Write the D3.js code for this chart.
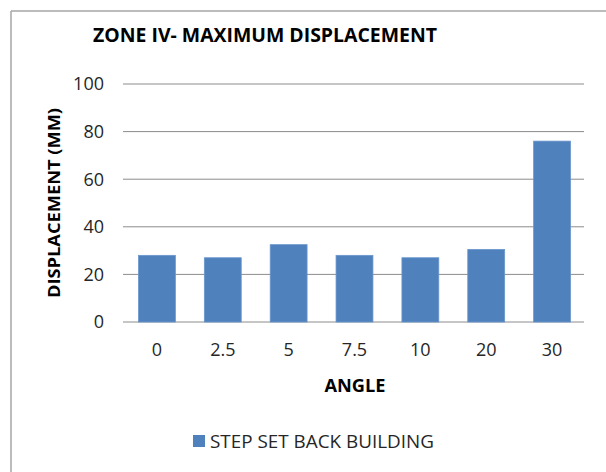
<!DOCTYPE html>
<html>
<head>
<meta charset="utf-8">
<script src="https://cdn.jsdelivr.net/npm/d3@7"></script>
<style>
  html, body { margin: 0; padding: 0; background: #fff; }
  svg { display: block; font-family: "Open Sans", sans-serif; }
</style>
</head>
<body>
<svg id="chart" width="606" height="472"></svg>
<script>
// chart data
var angles = ["0", "2.5", "5", "7.5", "10", "20", "30"];
var displacement = [28, 27, 32.5, 28, 27, 30.5, 76];
var yTicks = [0, 20, 40, 60, 80, 100];
var seriesName = "STEP SET BACK BUILDING";

var svg = d3.select("#chart");
var barColor = "#4F81BD";

// outer chart border (only top / left visible in the crop)
svg.append("line").attr("x1", 11).attr("y1", 11).attr("x2", 606).attr("y2", 11)
   .attr("stroke", "#a6a6a6").attr("stroke-width", 1.5);
svg.append("line").attr("x1", 11).attr("y1", 11).attr("x2", 11).attr("y2", 472)
   .attr("stroke", "#a6a6a6").attr("stroke-width", 1.5);

var plotLeft = 123, plotRight = 584, plotTop = 84, plotBottom = 322;

var x = d3.scaleBand().domain(angles).range([plotLeft + 1, plotRight + 1]).paddingInner(0.44).paddingOuter(0.22);
var y = d3.scaleLinear().domain([0, 100]).range([plotBottom, plotTop]);

// gridlines
svg.append("g")
   .selectAll("line")
   .data(yTicks)
   .enter()
   .append("line")
   .attr("x1", plotLeft)
   .attr("x2", plotRight)
   .attr("y1", function (d) { return y(d); })
   .attr("y2", function (d) { return y(d); })
   .attr("stroke", "#8c8c8c")
   .attr("stroke-width", 1);

// y tick labels
svg.append("g")
   .selectAll("text")
   .data(yTicks)
   .enter()
   .append("text")
   .attr("x", 104)
   .attr("y", function (d) { return y(d); })
   .attr("dy", "0.36em")
   .attr("text-anchor", "end")
   .attr("font-size", 18)
   .attr("fill", "#262626")
   .text(function (d) { return d; });

// bars
svg.append("g")
   .selectAll("rect")
   .data(displacement)
   .enter()
   .append("rect")
   .attr("x", function (d, i) { return x(angles[i]); })
   .attr("y", function (d) { return y(d); })
   .attr("width", x.bandwidth())
   .attr("height", function (d) { return y(0) - y(d); })
   .attr("fill", barColor)
   .attr("stroke", "#6a96cc")
   .attr("stroke-width", 0.8);

// x tick labels
svg.append("g")
   .selectAll("text")
   .data(angles)
   .enter()
   .append("text")
   .attr("x", function (d) { return x(d) + x.bandwidth() / 2; })
   .attr("y", 350)
   .attr("dy", "0.36em")
   .attr("text-anchor", "middle")
   .attr("font-size", 18)
   .attr("fill", "#262626")
   .text(function (d) { return d; });

// title
svg.append("text")
   .attr("x", 265).attr("y", 42)
   .attr("text-anchor", "middle")
   .attr("font-size", 19.5)
   .attr("font-weight", "bold")
   .attr("fill", "#000")
   .attr("textLength", 344)
   .attr("lengthAdjust", "spacingAndGlyphs")
   .text("ZONE IV- MAXIMUM DISPLACEMENT");

// axis titles
svg.append("text")
   .attr("transform", "translate(60,203) rotate(-90)")
   .attr("text-anchor", "middle")
   .attr("font-size", 16.5)
   .attr("font-weight", "bold")
   .attr("fill", "#000")
   .attr("textLength", 190)
   .attr("lengthAdjust", "spacingAndGlyphs")
   .text("DISPLACEMENT (MM)");

svg.append("text")
   .attr("x", 355).attr("y", 391.5)
   .attr("text-anchor", "middle")
   .attr("font-size", 17)
   .attr("font-weight", "bold")
   .attr("fill", "#000")
   .attr("textLength", 61)
   .attr("lengthAdjust", "spacingAndGlyphs")
   .text("ANGLE");

// legend
svg.append("rect")
   .attr("x", 193).attr("y", 435)
   .attr("width", 12).attr("height", 12)
   .attr("fill", barColor);
svg.append("text")
   .attr("x", 210).attr("y", 447.5)
   .attr("font-size", 18)
   .attr("fill", "#262626")
   .attr("textLength", 224)
   .attr("lengthAdjust", "spacingAndGlyphs")
   .text(seriesName);
</script>
</body>
</html>
